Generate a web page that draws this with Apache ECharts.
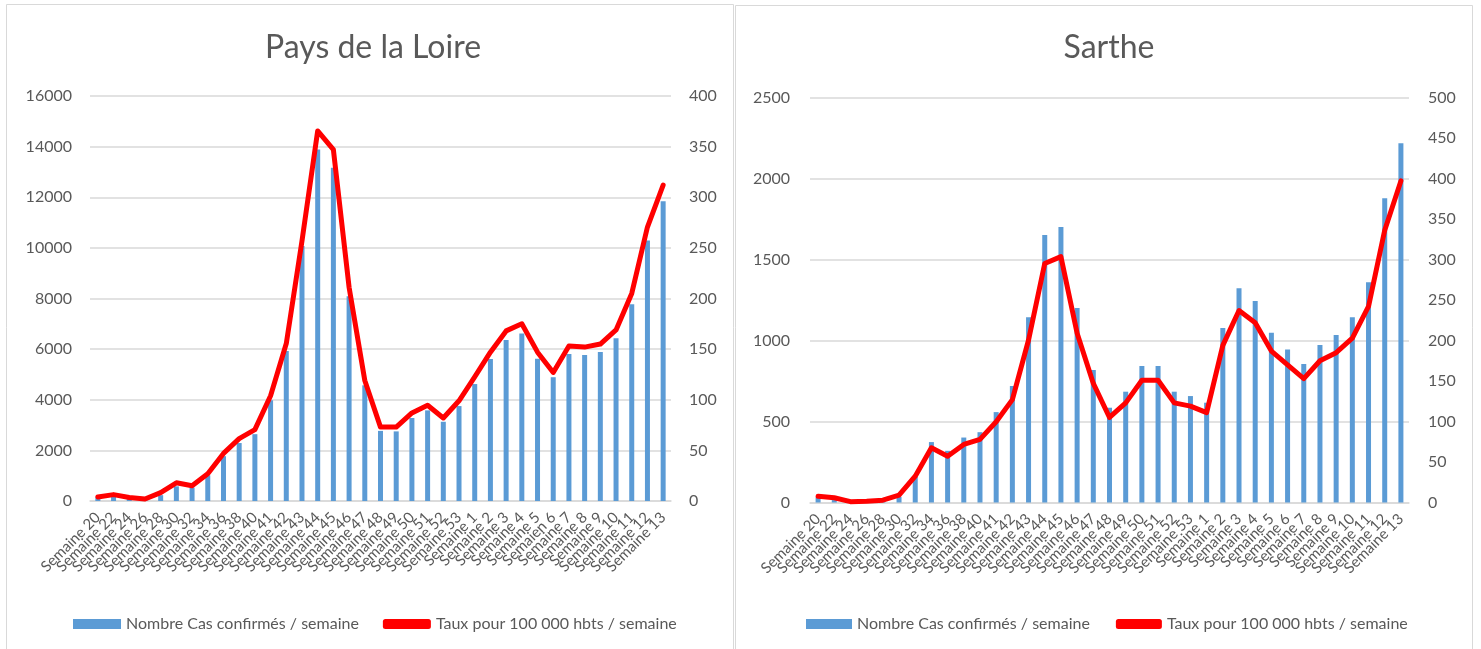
<!DOCTYPE html>
<html>
<head>
<meta charset="utf-8">
<script src="https://cdn.jsdelivr.net/npm/echarts@6/dist/echarts.min.js"></script>
<style>
html,body{margin:0;padding:0;background:#fff;}
#c{width:1481px;height:649px;}
</style>
</head>
<body>
<div id="c"></div>
<script>
const weeksLoire = ["Semaine 20","Semaine 22","Semaine 24","Semaine 26","Semaine 28","Semaine 30","Semaine 32","Semaine 34","Semaine 36","Semaine 38","Semaine 40","Semaine 41","Semaine 42","Semaine 43","Semaine 44","Semaine 45","Semaine 46","Semaine 47","Semaine 48","Semaine 49","Semaine 50","Semaine 51","Semaine 52","Semaine 53","Semaine 1","Semaine 2","Semaine 3","Semaine 4","Semaine 5","Semaien 6","Semaine 7","Semaine 8","Semaine 9","Semaine 10","Semaine 11","Semaine 12","Semaine 13"];
const weeksSarthe = ["Semaine 20","Semaine 22","Semaine 24","Semaine 26","Semaine 28","Semaine 30","Semaine 32","Semaine 34","Semaine 36","Semaine 38","Semaine 40","Semaine 41","Semaine 42","Semaine 43","Semaine 44","Semaine 45","Semaine 46","Semaine 47","Semaine 48","Semaine 49","Semaine 50","Semaine 51","Semaine 52","Semaine 53","Semaine 1","Semaine 2","Semaine 3","Semaine 4","Semaine 5","Semaine 6","Semaine 7","Semaine 8","Semaine 9","Semaine 10","Semaine 11","Semaine 12","Semaine 13"];

const casLoire = [150,250,140,90,230,580,530,1015,1770,2290,2640,3980,5930,10070,13890,13170,8090,4570,2770,2750,3280,3580,3130,3750,4620,5610,6360,6620,5620,4890,5810,5770,5890,6430,7770,10290,11840];
const tauxLoire = [4,6.3,3.5,2,8.3,18,15,27,47,61.6,70.5,104,155.5,257,365.5,347,211,119,73,73,87,94.5,82,99,122.5,147,168,175,147,127,153,152,155,169,205,270.6,312];

const casSarthe = [31,15,4,6,12,35,158,373,319,401,434,558,719,1143,1652,1701,1201,818,585,684,842,842,684,657,616,1077,1322,1244,1048,945,855,972,1034,1143,1359,1878,2218];
const tauxSarthe = [7.8,5.8,1,1.6,2.9,9,32.5,67.5,57,71.7,78,99.7,127,200.6,295,303.5,209,147,105,123,151,151,123,119,111,194,237,222,187,170,153,175,185,203,242,336,397];

const titles = ["Pays de la Loire","Sarthe"];
const nameCas = "Nombre Cas confirmés / semaine";
const nameTaux = "Taux pour 100 000 hbts / semaine";

const FONT = "Lato, 'Open Sans', sans-serif";
const TXT = "#595959";
const BLUE = "#5B9BD5";
const RED = "#FF0000";

const chart = echarts.init(document.getElementById('c'));

function xAx(gi, cats){
  return {type:'category', gridIndex:gi, data:cats,
    axisLine:{show:true, lineStyle:{color:'#d9d9d9', width:1.5}},
    axisTick:{show:false},
    axisLabel:{rotate:45, interval:0, color:TXT, fontSize:15, fontFamily:FONT, margin:14}};
}
function yAx(gi, max, interval, pos, grid, margin){
  return {type:'value', gridIndex:gi, min:0, max:max, interval:interval, position:pos,
    axisLine:{show:false}, axisTick:{show:false},
    splitLine:{show:grid, lineStyle:{color:'#d9d9d9', width:1.5}},
    axisLabel:{color:TXT, fontSize:16, fontFamily:FONT, margin:margin, formatter:function(v){return String(v);}}};
}

const option = {
  backgroundColor:'#fff',
  animation:false,
  title:[
    {text:titles[0], left:368, top:27, textAlign:'center', textStyle:{color:TXT, fontSize:32, fontWeight:'normal', fontFamily:FONT}},
    {text:titles[1], left:1104, top:27, textAlign:'center', textStyle:{color:TXT, fontSize:32, fontWeight:'normal', fontFamily:FONT}}
  ],
  legend:[
    {left:68, top:611, itemGap:24, itemWidth:48, itemHeight:10,
     textStyle:{color:TXT, fontSize:16, fontFamily:FONT},
     data:[{name:nameCas, icon:'rect'},{name:nameTaux, icon:'roundRect', itemStyle:{color:RED}}]},
    {left:801, top:611, itemGap:26, itemWidth:46, itemHeight:10,
     textStyle:{color:TXT, fontSize:16, fontFamily:FONT},
     data:[{name:nameCas, icon:'rect'},{name:nameTaux, icon:'roundRect', itemStyle:{color:RED}}]}
  ],
  grid:[
    {left:90, top:96, width:581, height:405},
    {left:810, top:97.5, width:599, height:405}
  ],
  xAxis:[xAx(0, weeksLoire), xAx(1, weeksSarthe)],
  yAxis:[
    yAx(0, 16000, 2000, 'left', true, 18),
    yAx(0, 400, 50, 'right', false, 18),
    yAx(1, 2500, 500, 'left', true, 20),
    yAx(1, 500, 50, 'right', false, 19)
  ],
  series:[
    {name:nameCas, type:'bar', xAxisIndex:0, yAxisIndex:0, data:casLoire, barWidth:5, itemStyle:{color:BLUE}},
    {name:nameTaux, type:'line', xAxisIndex:0, yAxisIndex:1, data:tauxLoire, showSymbol:false, symbol:'none',
     lineStyle:{color:RED, width:5, join:'round', cap:'round'}, itemStyle:{color:RED}},
    {name:nameCas, type:'bar', xAxisIndex:1, yAxisIndex:2, data:casSarthe, barWidth:5, itemStyle:{color:BLUE}},
    {name:nameTaux, type:'line', xAxisIndex:1, yAxisIndex:3, data:tauxSarthe, showSymbol:false, symbol:'none',
     lineStyle:{color:RED, width:5, join:'round', cap:'round'}, itemStyle:{color:RED}}
  ],
  graphic:[
    {type:'rect', shape:{x:6.5, y:4.5, width:727, height:660}, style:{fill:null, stroke:'#d9d9d9', lineWidth:1}, silent:true},
    {type:'rect', shape:{x:735.5, y:5.5, width:737, height:660}, style:{fill:null, stroke:'#d9d9d9', lineWidth:1}, silent:true}
  ]
};
chart.setOption(option);
</script>
</body>
</html>
